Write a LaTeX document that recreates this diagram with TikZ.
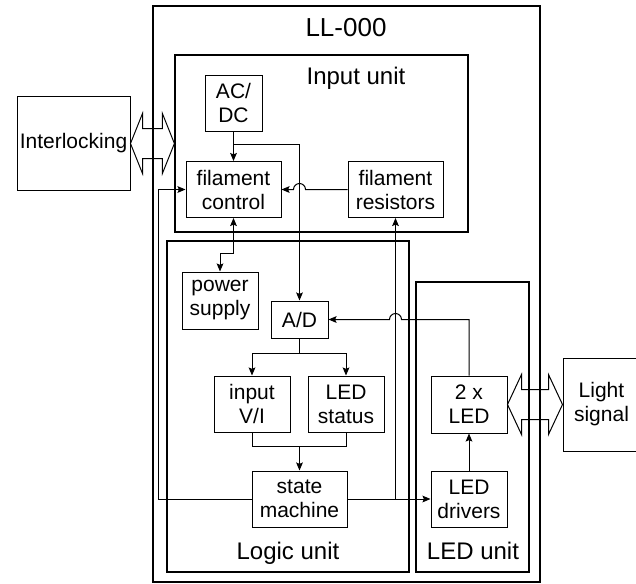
\documentclass[tikz,border=0pt]{standalone}
\usepackage{fontspec}
\setmainfont{Liberation Sans}
\usetikzlibrary{arrows.meta,calc}

% hollow two-headed block arrow: from, to, head length
\newcommand\flexarrow[3]{%
  \draw[line width=0.75pt] (#1) -- ++(#3,-30) -- ++(0,15) -- ($(#2)+(-#3,-15)$)
    -- ++(0,-15) -- (#2) -- ++(-#3,30) -- ++(0,-15) -- ($(#1)+(#3,15)$)
    -- ++(0,15) -- cycle;}

\begin{document}
\begin{tikzpicture}[x=0.75pt,y=-0.75pt,
  >={Stealth[length=6pt,width=5pt,inset=1pt]},
  every node/.style={font=\fontsize{15.75}{18}\selectfont},
  blk/.style={draw, line width=0.75pt, align=center, inner sep=1pt},
  unit/.style={draw, line width=0.9pt},
  title/.style={anchor=base, font=\fontsize{18}{21}\selectfont},
  wire/.style={line width=0.75pt}
  ]
  \useasboundingbox (0,0) rectangle (636,583);

  % enclosing boxes
  \node[draw, line width=1.25pt, minimum width=290.25pt, minimum height=432pt] (ll) at (346.5,294) {};
  \node[unit, minimum width=219.75pt, minimum height=132.75pt] (inp) at (321.5,143.5) {};
  \node[unit, minimum width=181.5pt, minimum height=248.25pt] (logic) at (288,406.5) {};
  \node[unit, minimum width=84.75pt, minimum height=217.5pt] (ledu) at (472.5,427) {};
  \node[title, font=\fontsize{19.5}{22}\selectfont] at (346,36) {LL-000};
  \node[title] at (356,84) {Input unit};
  \node[title] at (288,559) {Logic unit};
  \node[title] at (473,559) {LED unit};

  % outside world
  \node[blk, minimum width=84.75pt, minimum height=70.5pt] (il) at (73.5,143.5) {Interlocking};
  \node[blk, minimum width=57.75pt, minimum height=69.75pt] (sig) at (601.5,404.5) {Light\\signal};

  % input unit
  \node[blk, minimum width=42.75pt, minimum height=42pt] (acdc) at (233.5,103) {AC/\\DC};
  \node[blk, minimum width=71.25pt, minimum height=42pt] (fc) at (233.5,189.5) {filament\\control};
  \node[blk, minimum width=71.25pt, minimum height=42pt] (fr) at (395.5,189.5) {filament\\resistors};

  % logic unit
  \node[blk, minimum width=57pt, minimum height=42.75pt] (ps) at (220,300.5) {power\\supply};
  \node[blk, minimum width=42.75pt, minimum height=27.75pt] (ad) at (299.5,319.5) {A/D};
  \node[blk, minimum width=57pt, minimum height=42pt] (vi) at (252,404) {input\\V/I};
  \node[blk, minimum width=57pt, minimum height=42pt] (ls) at (346,404) {LED\\status};
  \node[blk, minimum width=71.25pt, minimum height=42pt] (sm) at (299.5,499) {state\\machine};

  % LED unit
  \node[blk, minimum width=57pt, minimum height=42.75pt] (led) at (469,404.5) {2 x\\LED};
  \node[blk, minimum width=57pt, minimum height=42pt] (drv) at (469,499) {LED\\drivers};

  % external links
  \flexarrow{il.east}{inp.west}{12}
  \flexarrow{led.east}{sig.west}{14}

  % wiring
  \draw[wire,->] (acdc) -- (fc);
  \draw[wire,->] (acdc.south) ++(0,13) -| (ad.north);
  \draw[wire,->] (fr.west) -- ($(ad.north |- fr.west)+(6,0)$)
    arc[start angle=0, end angle=-180, radius=6] -- (fc.east);
  \draw[wire,<->] (fc.south) -- ++(0,35) -| (ps.north);
  \draw[wire] (ad.south) -- ++(0,15) coordinate (adj);
  \draw[wire,->] (adj) -| (vi.north);
  \draw[wire,->] (adj) -| (ls.north);
  \draw[wire] (vi.south) -- ++(0,14) coordinate (mj) -| (ls.south);
  \draw[wire,->] (mj -| sm.north) -- (sm.north);
  \draw[wire,->] (sm.east) -- (drv.west);
  \draw[wire,->] (fr.south |- sm.east) -- (fr.south);
  \draw[wire,->] (sm.west) -- (158,499) |- (fc.west);
  \draw[wire,->] (led.north) |- ($(fr.south |- ad.east)+(6,0)$)
    arc[start angle=0, end angle=-180, radius=6] -- (ad.east);
  \draw[wire,->] (drv) -- (led);
\end{tikzpicture}
\end{document}
